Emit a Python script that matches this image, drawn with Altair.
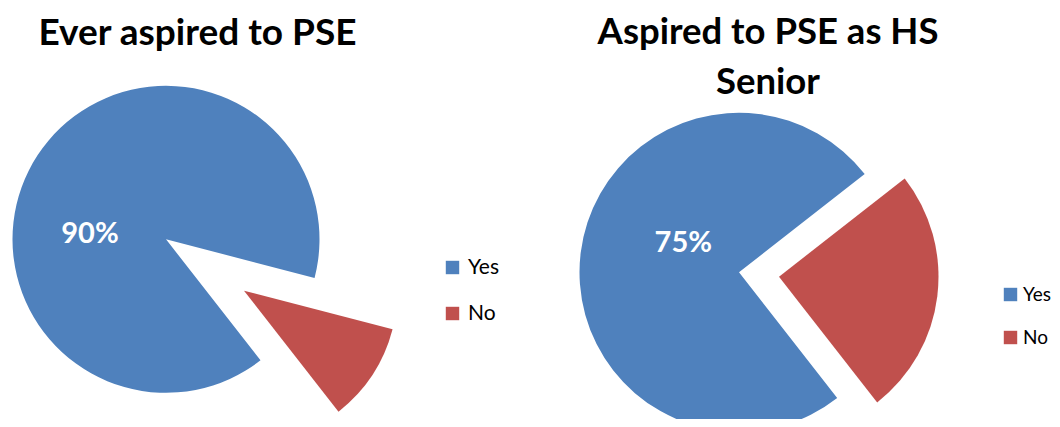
import math
import altair as alt
import pandas as pd

# ---- data ----
categories = ["Yes", "No"]
ever_values = [89.6, 10.4]          # Ever aspired to PSE (labelled 90%)
senior_values = [75.0, 25.0]        # Aspired to PSE as HS Senior
titles_left = ["Ever aspired to PSE"]
titles_right = ["Aspired to PSE as HS", "Senior"]
colors = ["#4F81BD", "#C0504D"]

FONT = "Lato"
START = math.radians(142)


def pie_df(vals):
    return pd.DataFrame({"cat": categories, "value": vals})


def pie(vals, cx, cy, r, ex_dx, ex_dy, legend_x, legend_y, row_pad, label_pos,
        legend_font=21, legend_off=5):
    base = alt.Chart(pie_df(vals)).transform_stack(
        stack="value", groupby=[], as_=["v0", "v1"]
    )
    theta_scale = alt.Scale(domain=[0, 100], range=[START, START + 2 * math.pi])
    color = alt.Color(
        "cat:N",
        scale=alt.Scale(domain=categories, range=colors),
        legend=alt.Legend(
            title=None,
            orient="none",
            legendX=legend_x,
            legendY=legend_y,
            symbolType="square",
            symbolSize=180,
            symbolStrokeWidth=0,
            labelFont=FONT,
            labelFontSize=legend_font,
            labelColor="#000000",
            labelOffset=legend_off,
            rowPadding=row_pad,
        ),
    )
    yes = base.transform_filter("datum.cat == 'Yes'").mark_arc(
        radius=r, stroke=None
    ).encode(
        theta=alt.Theta("v0:Q", scale=theta_scale),
        theta2="v1",
        color=color,
        x=alt.value(cx),
        y=alt.value(cy),
    )
    no = base.transform_filter("datum.cat == 'No'").mark_arc(
        radius=r, stroke=None
    ).encode(
        theta=alt.Theta("v0:Q", scale=theta_scale),
        theta2="v1",
        color=color,
        x=alt.value(cx + ex_dx),
        y=alt.value(cy + ex_dy),
    )
    lbl = base.transform_filter("datum.cat == 'Yes'").transform_calculate(
        label="format(datum.value, '.0f') + '%'"
    ).mark_text(
        font=FONT, fontSize=29, fontWeight="bold", color="white",
        align="center", baseline="alphabetic",
    ).encode(
        text="label:N",
        x=alt.value(label_pos[0]),
        y=alt.value(label_pos[1]),
    )
    return alt.layer(yes, no, lbl)


left = pie(ever_values, 158, 231.3, 153.5, 78, 51.4, 434, 249, 24, (82, 235.3))
right = pie(senior_values, 731, 264.3, 159.5, 40, 4.4, 993, 277, 23, (675.3, 243.7),
            legend_font=19, legend_off=3)

title_l = alt.Chart(pd.DataFrame({"t": [titles_left]})).mark_text(
    font=FONT, fontSize=37, fontWeight="bold", color="black",
    align="center", baseline="alphabetic",
).encode(text="t", x=alt.value(189.5), y=alt.value(36.5))

title_r = alt.Chart(pd.DataFrame({"t": [titles_right]})).mark_text(
    font=FONT, fontSize=36.5, fontWeight="bold", color="black",
    align="center", baseline="alphabetic", lineHeight=50,
).encode(text="t", x=alt.value(760), y=alt.value(35.5))

chart = alt.layer(left, right, title_l, title_r).resolve_scale(
    color="independent", theta="independent"
).properties(
    width=1044, height=411, autosize=alt.AutoSizeParams(type="none"), padding=0
).configure_view(stroke=None)

chart.save("out.html", embed_options={"renderer": "svg", "actions": False})
